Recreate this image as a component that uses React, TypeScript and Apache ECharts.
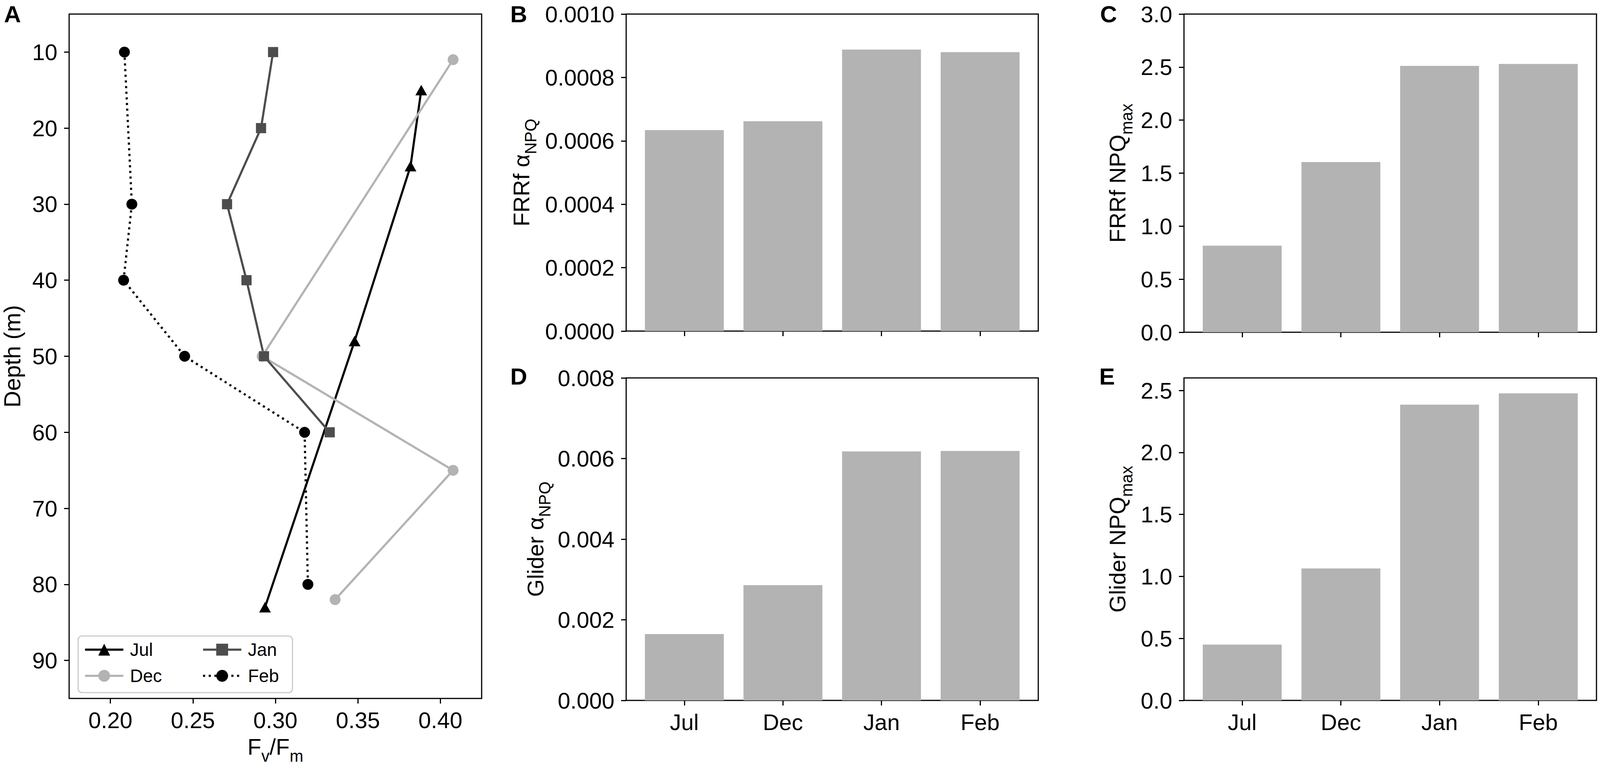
import React, { useEffect, useRef } from 'react';
import * as echarts from 'echarts';

// ---------- data ----------
const months = ['Jul', 'Dec', 'Jan', 'Feb'];
const monthIndex = [0, 1, 2, 3];

// Panel A: [Fv/Fm, depth (m)]
const julProfile = [[0.3884, 15], [0.3819, 25], [0.348, 48], [0.2937, 83]];
const decProfile = [[0.4077, 11], [0.292, 50], [0.4077, 65], [0.3362, 82]];
const janProfile = [[0.2986, 10], [0.2913, 20], [0.2707, 30], [0.2825, 40], [0.2931, 50], [0.3329, 60]];
const febProfile = [[0.2085, 10], [0.213, 30], [0.208, 40], [0.245, 50], [0.3177, 60], [0.3197, 80]];

// Panels B-E
const frrfAlpha = [0.000634, 0.000662, 0.000888, 0.00088];
const frrfNpqMax = [0.816, 1.605, 2.511, 2.53];
const gliderAlpha = [0.001646, 0.002859, 0.006177, 0.00619];
const gliderNpqMax = [0.45, 1.064, 2.385, 2.477];

// tick values
const depthTicks = [10, 20, 30, 40, 50, 60, 70, 80, 90];
const fvfmTicks = [0.2, 0.25, 0.3, 0.35, 0.4];
const frrfAlphaTicks = [0, 0.0002, 0.0004, 0.0006, 0.0008, 0.001];
const frrfNpqTicks = [0, 0.5, 1.0, 1.5, 2.0, 2.5, 3.0];
const gliderAlphaTicks = [0, 0.002, 0.004, 0.006, 0.008];
const gliderNpqTicks = [0, 0.5, 1.0, 1.5, 2.0, 2.5];

// ---------- styling ----------
const FONT = "'Liberation Sans', Arial, Helvetica, sans-serif";
const TICK_FS = 58;
const BAR_COLOR = '#b3b3b3';
const LINE_W = 5.5;

const rich = {
  m: { fontFamily: FONT, fontSize: 58, lineHeight: 90, color: '#000', verticalAlign: 'middle' },
  s: { fontFamily: FONT, fontSize: 42, lineHeight: 42, color: '#000', verticalAlign: 'bottom' },
};

const xLabelBase = { color: '#000', fontFamily: FONT, fontSize: TICK_FS, lineHeight: TICK_FS };
const yLabelBase = { color: '#000', fontFamily: FONT, fontSize: TICK_FS, lineHeight: 46 };
const tickStyle = (vals: number[]) => ({
  show: true,
  length: 13,
  inside: false,
  customValues: vals,
  lineStyle: { color: '#000', width: 3 },
});

const TOP = 36;
const grids = [
  { left: 177, top: TOP, width: 1056, height: 1795 - TOP },
  { left: 1603, top: TOP, width: 1055, height: 848 - TOP },
  { left: 3031, top: TOP, width: 1056, height: 851 - TOP },
  { left: 1603, top: 968, width: 1055, height: 826 },
  { left: 3031, top: 968, width: 1056, height: 826 },
].map((g) => ({ ...g, show: true, borderColor: '#000', borderWidth: 3, backgroundColor: 'transparent' }));

function barXAxis(gridIndex: number, showLabels: boolean) {
  return {
    gridIndex,
    type: 'value',
    min: -0.59,
    max: 3.59,
    axisLine: { show: false, onZero: false },
    splitLine: { show: false },
    axisTick: tickStyle(monthIndex),
    axisLabel: {
      ...xLabelBase,
      show: showLabels,
      margin: 26,
      customValues: monthIndex,
      formatter: (v: number) => months[Math.round(v)] ?? '',
    },
  };
}

function barYAxis(gridIndex: number, max: number, ticks: number[], digits: number, name: string, nameGap: number) {
  return {
    gridIndex,
    type: 'value',
    min: 0,
    max,
    axisLine: { show: false, onZero: false },
    splitLine: { show: false },
    axisTick: tickStyle(ticks),
    axisLabel: {
      ...yLabelBase,
      margin: 30,
      customValues: ticks,
      formatter: (v: number) => v.toFixed(digits),
    },
    name,
    nameLocation: 'middle',
    nameGap,
    nameTextStyle: { rich },
  };
}

function barSeries(idx: number, values: number[]) {
  return {
    type: 'bar',
    xAxisIndex: idx,
    yAxisIndex: idx,
    barWidth: 202,
    itemStyle: { color: BAR_COLOR },
    emphasis: { disabled: true },
    data: values.map((v, i) => [monthIndex[i], v]),
  };
}

function lineSeries(name: string, data: number[][], color: string, symbol: string, symbolSize: any, dashed: boolean) {
  return {
    type: 'line',
    name,
    xAxisIndex: 0,
    yAxisIndex: 0,
    data,
    symbol,
    symbolSize,
    showSymbol: true,
    lineStyle: { color, width: LINE_W, type: dashed ? [5.5, 9] : 'solid', cap: 'butt' },
    itemStyle: { color, borderWidth: 0 },
    emphasis: { disabled: true },
  };
}

const letter = (text: string, x: number, y: number) => ({
  type: 'text',
  x,
  y,
  style: {
    text,
    fontFamily: FONT,
    fontSize: 60,
    fontWeight: 'bold',
    fill: '#000',
    align: 'center',
    verticalAlign: 'middle',
  },
});

const legendText = {
  color: '#000',
  fontFamily: FONT,
  fontSize: 46,
  lineHeight: 46,
  width: 90,
  padding: [0, 0, 0, 12],
};

const legendCommon = {
  orient: 'vertical',
  top: 1629,
  itemWidth: 98,
  itemHeight: 38,
  itemGap: 21,
  selectedMode: false,
  textStyle: legendText,
  lineStyle: { width: LINE_W },
};

export default function App() {
  const ref = useRef<HTMLDivElement>(null);

  useEffect(() => {
    if (!ref.current) return;
    const chart = echarts.init(ref.current, null, { renderer: 'svg' });
    const option: any = {
      animation: false,
      backgroundColor: '#ffffff',
      textStyle: { fontFamily: FONT },
      grid: grids,
      xAxis: [
        {
          gridIndex: 0,
          type: 'value',
          min: 0.175,
          max: 0.425,
          axisLine: { show: false, onZero: false },
          splitLine: { show: false },
          axisTick: tickStyle(fvfmTicks),
          axisLabel: {
            ...xLabelBase,
            margin: 26,
            customValues: fvfmTicks,
            formatter: (v: number) => v.toFixed(2),
          },
          name: '{m|F}{s|v}{m|/F}{s|m}',
          nameLocation: 'middle',
          nameGap: 78,
          nameTextStyle: { rich },
        },
        barXAxis(1, false),
        barXAxis(2, false),
        barXAxis(3, true),
        barXAxis(4, true),
      ],
      yAxis: [
        {
          gridIndex: 0,
          type: 'value',
          inverse: true,
          min: 5,
          max: 95,
          axisLine: { show: false, onZero: false },
          splitLine: { show: false },
          axisTick: tickStyle(depthTicks),
          axisLabel: {
            ...yLabelBase,
            margin: 30,
            customValues: depthTicks,
            formatter: (v: number) => String(v),
          },
          name: 'Depth (m)',
          nameLocation: 'middle',
          nameGap: 116,
          nameTextStyle: { color: '#000', fontFamily: FONT, fontSize: 59, lineHeight: 59 },
        },
        barYAxis(1, 0.001, frrfAlphaTicks, 4, '{m|FRRf α}{s|NPQ}', 224),
        barYAxis(2, 3.0, frrfNpqTicks, 1, '{m|FRRf NPQ}{s|max}', 126),
        barYAxis(3, 0.008, gliderAlphaTicks, 3, '{m|Glider α}{s|NPQ}', 188),
        barYAxis(4, 2.601, gliderNpqTicks, 1, '{m|Glider NPQ}{s|max}', 126),
      ],
      legend: [
        {
          ...legendCommon,
          data: ['Jul', 'Dec'],
          left: 200,
          padding: [12, 326, 20, 15],
          borderColor: '#cccccc',
          borderWidth: 3,
          borderRadius: 10,
          backgroundColor: 'rgba(255,255,255,0.8)',
        },
        {
          ...legendCommon,
          data: ['Jan', 'Feb'],
          left: 517,
          padding: [12, 0, 20, 0],
        },
      ],
      graphic: [
        letter('A', 32, 36),
        letter('B', 1328, 36),
        letter('C', 2838, 36),
        letter('D', 1328, 964),
        letter('E', 2834, 964),
      ],
      series: [
        lineSeries('Jul', julProfile, '#000000', 'triangle', [30, 27], false),
        lineSeries('Dec', decProfile, '#b3b3b3', 'circle', 28, false),
        lineSeries('Jan', janProfile, '#4d4d4d', 'rect', 26, false),
        lineSeries('Feb', febProfile, '#000000', 'circle', 28, true),
        barSeries(1, frrfAlpha),
        barSeries(2, frrfNpqMax),
        barSeries(3, gliderAlpha),
        barSeries(4, gliderNpqMax),
      ],
    };
    chart.setOption(option);
    return () => chart.dispose();
  }, []);

  return (
    <div
      ref={ref}
      style={{ position: 'fixed', left: 0, top: 0, width: 4098, height: 1962, background: '#fff' }}
    />
  );
}
